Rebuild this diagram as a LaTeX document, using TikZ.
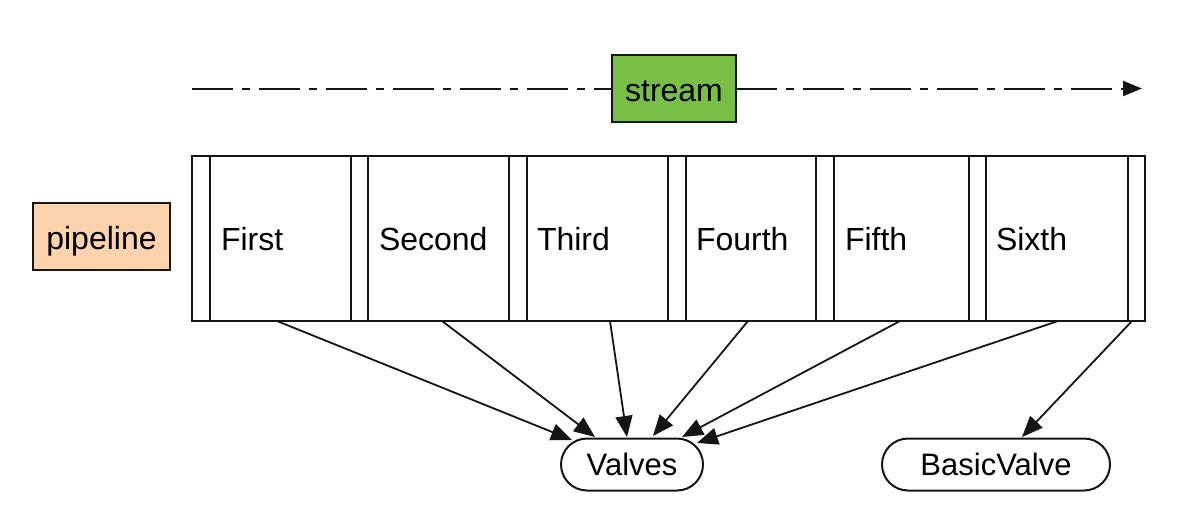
\documentclass[tikz,border=0pt]{standalone}
\usepackage{fontspec}
\setmainfont{Liberation Sans}
\usetikzlibrary{arrows.meta,calc}
\definecolor{streamgreen}{HTML}{77BF45}
\definecolor{pipepeach}{HTML}{FCD3AC}
\definecolor{ink}{HTML}{151515}
\begin{document}
\begin{tikzpicture}[x=0.5pt,y=-0.5pt,
  every node/.style={inner sep=0pt, outer sep=0pt},
  labelbox/.style={draw=ink, line width=1pt, text height=13pt, text depth=0pt, font=\fontsize{16pt}{18pt}\selectfont},
  cellbox/.style={draw=ink, line width=1pt, minimum height=82.5pt},
  celltext/.style={anchor=base west, font=\fontsize{16pt}{18pt}\selectfont},
  valvebox/.style={draw=ink, line width=1pt, rounded corners=13pt, minimum height=26pt, font=\fontsize{15.5pt}{18pt}\selectfont},
  conn/.style={draw=ink, line width=0.9pt, -{Triangle[length=10.5pt,width=8.5pt]}},
  flow/.style={draw=ink, line width=1pt, dash pattern=on 20.5pt off 4.5pt on 4pt off 4.5pt}
]
\useasboundingbox (0,0) rectangle (1198,514);

% stream
\node[labelbox, fill=streamgreen, minimum width=62pt, minimum height=33.5pt] (stream) at (674,88.5) {stream};
\coordinate (flowstart) at (192,88.5);
\coordinate (flowend) at (1142,88.5);
\draw[flow] (flowstart) -- (stream.west);
\draw[flow] (stream.east) -- ($(flowend)+(-14,0)$);
\draw[draw=ink, line width=1pt, -{Triangle[length=9.5pt,width=7.5pt]}] ($(flowend)+(-14,0)$) -- (flowend);

% pipeline
\node[labelbox, fill=pipepeach, minimum width=68.5pt, minimum height=33.5pt] (pipeline) at (101.5,236.5) {pipeline};

% outer pipeline box
\node[cellbox, minimum width=476.5pt] (outer) at (668.5,238.5) {};

% cells
\node[cellbox, minimum width=70.5pt] (c1) at (280.5,238.5) {};
\node[cellbox, minimum width=70.5pt] (c2) at (438.5,238.5) {};
\node[cellbox, minimum width=70.5pt] (c3) at (597.5,238.5) {};
\node[cellbox, minimum width=65pt]   (c4) at (751,238.5) {};
\node[cellbox, minimum width=67.5pt] (c5) at (901.5,238.5) {};
\node[cellbox, minimum width=71pt]   (c6) at (1057,238.5) {};

\node[celltext] (t1) at (221,250) {First};
\node[celltext] (t2) at (379,250) {Second};
\node[celltext] (t3) at (537,250) {Third};
\node[celltext] (t4) at (696,250) {Fourth};
\node[celltext] (t5) at (845,250) {Fifth};
\node[celltext] (t6) at (996,250) {Sixth};

% valves
\node[valvebox, minimum width=71pt] (valves) at (632,464.5) {Valves};
\node[valvebox, minimum width=114pt] (basic) at (996,464.5) {BasicValve};

% connector start points on the bottom of the pipeline
\coordinate (s1) at (277,321);
\coordinate (s2) at (442,321);
\coordinate (s3) at (610,321);
\coordinate (s4) at (748,321);
\coordinate (s5) at (900,321);
\coordinate (s6) at (1058,321);
\coordinate (s7) at (1132,321);
% end points on the valves
\coordinate (e1) at (572,440);
\coordinate (e2) at (595,437);
\coordinate (e3) at (627,437);
\coordinate (e4) at (653,436);
\coordinate (e5) at (682,437);
\coordinate (e6) at (697,443);
\coordinate (e7) at (1022,437);

\draw[conn] (s1) -- (e1);
\draw[conn] (s2) -- (e2);
\draw[conn] (s3) -- (e3);
\draw[conn] (s4) -- (e4);
\draw[conn] (s5) -- (e5);
\draw[conn] (s6) -- (e6);
\draw[conn] (s7) -- (e7);
\end{tikzpicture}
\end{document}
